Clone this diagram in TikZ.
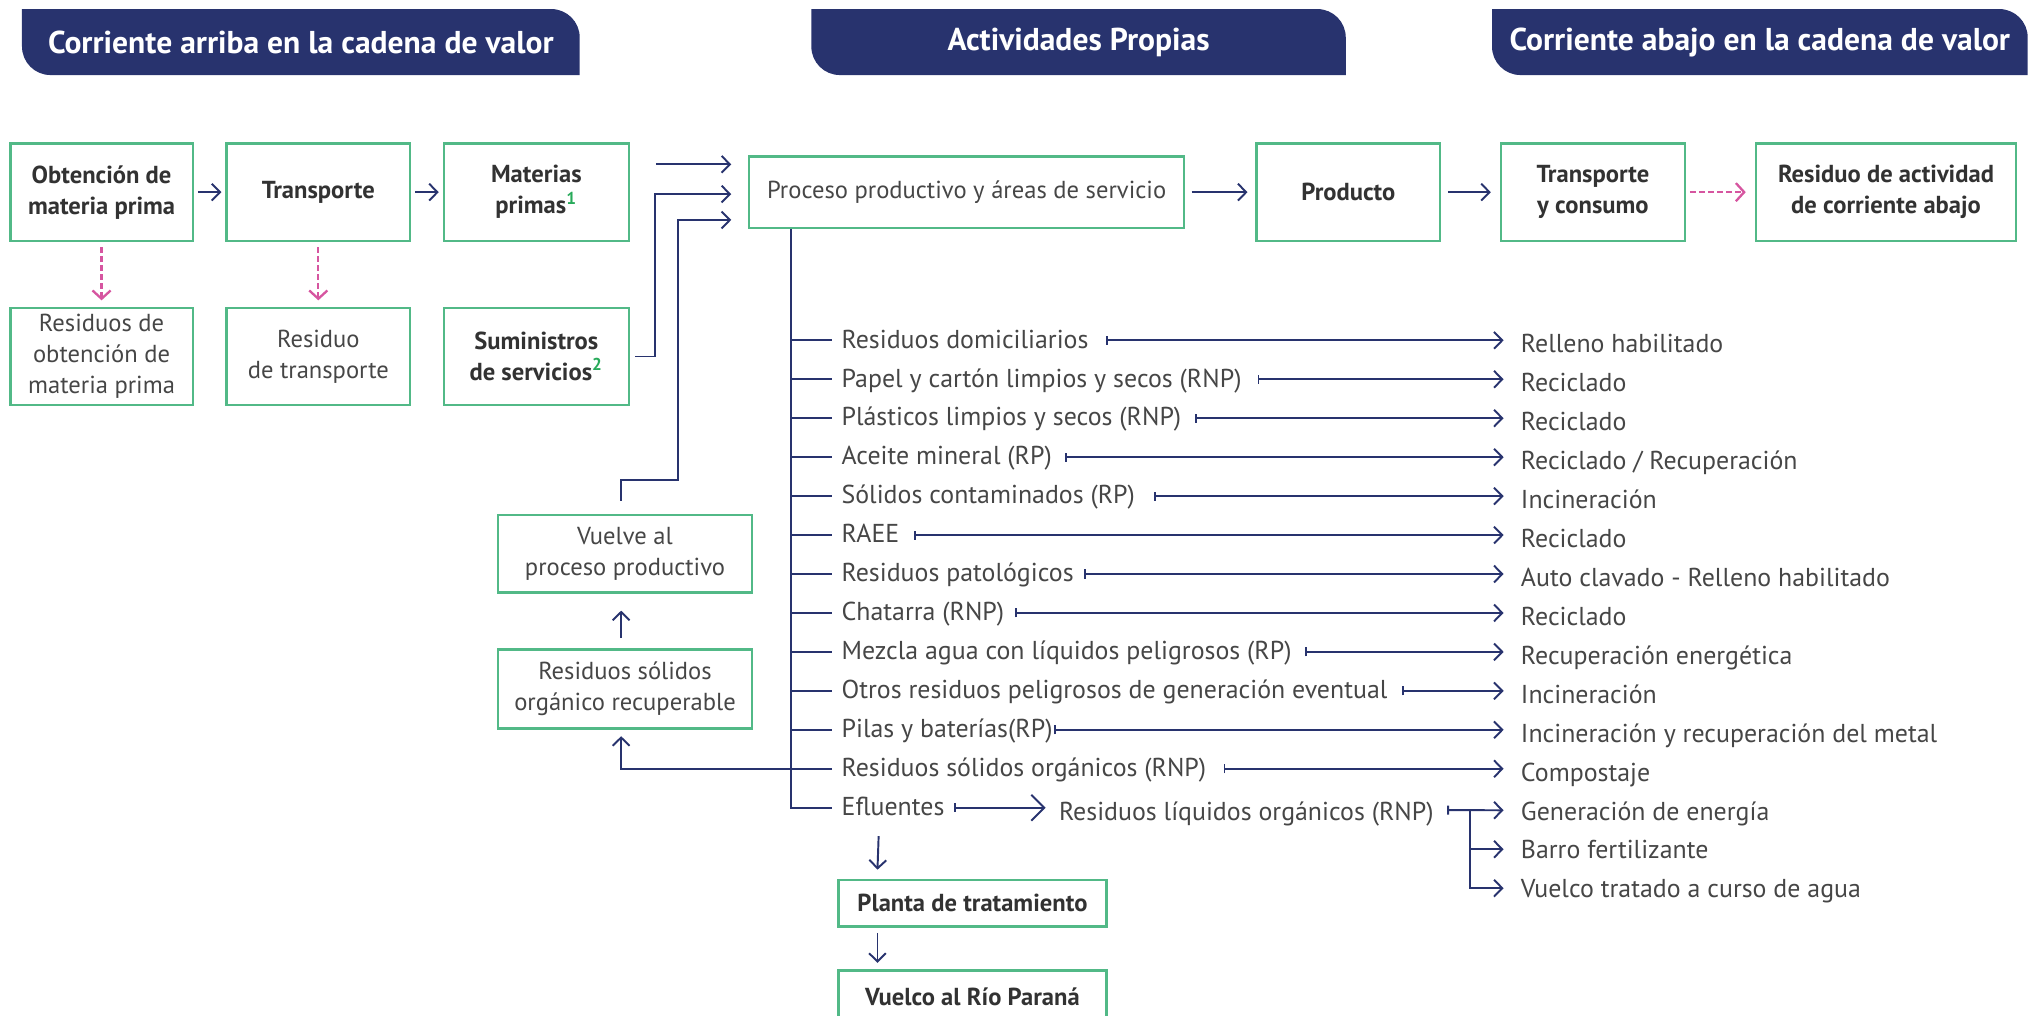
\documentclass[tikz,border=0pt]{standalone}
\usepackage{fontspec}
\setmainfont{PT Sans}
\usetikzlibrary{arrows.meta,calc}
\definecolor{navy}{RGB}{40,51,110}
\definecolor{boxgreen}{RGB}{82,185,135}
\definecolor{pinkd}{RGB}{214,85,160}
\definecolor{txt}{RGB}{50,50,50}
\definecolor{ltxt}{RGB}{70,70,70}
\definecolor{supg}{RGB}{40,170,90}
\newcommand\myhdr[4]{%
  \fill[navy] (#1,7) -- ({#2-22},7) arc[start angle=-90,end angle=0,radius=22] -- (#2,58) -- ({#1+22},58) arc[start angle=90,end angle=180,radius=22] -- cycle;
  \node[hdrtxt] (#3) at ({(#1+#2)/2},32.5) {#4};}
\begin{document}
\begin{tikzpicture}[x=0.5pt,y=-0.5pt,
  box/.style={draw=boxgreen,line width=0.9pt,align=center,inner sep=0pt},
  bbox/.style={box,text=txt,font=\bfseries\fontsize{9.5}{12}\selectfont},
  lbox/.style={box,text=ltxt,font=\fontsize{9.5}{12}\selectfont},
  hdrtxt/.style={text=white,font=\bfseries\fontsize{12.2}{14}\selectfont,inner sep=0pt},
  conn/.style={draw=navy,line width=0.75pt},
  arr/.style={conn,-{Straight Barb[length=3.2pt,width=6.5pt]}},
  barr/.style={conn,{Bar[width=3.5pt]}-{Straight Barb[length=3.2pt,width=6.5pt]}},
  pk/.style={draw=pinkd,line width=0.9pt,dash pattern=on 2.2pt off 1.3pt,-{Straight Barb[length=3.2pt,width=7pt]}},
  item/.style={anchor=west,inner sep=0pt,text=ltxt,font=\fontsize{10}{12}\selectfont,text height=1.6ex,text depth=0.4ex}]
\useasboundingbox (0,0) rectangle (1568,785);
% headers
\myhdr{17}{448}{h1}{Corriente arriba en la cadena de valor}
\myhdr{627}{1040}{h2}{Actividades Propias}
\myhdr{1153}{1567}{h3}{Corriente abajo en la cadena de valor}
% boxes
\node[bbox,minimum width=70.5pt,minimum height=37.5pt] (obt) at (78.5,148.5) {Obtención de\\materia prima};
\node[bbox,minimum width=71pt,minimum height=37.5pt] (trp) at (246,148.5) {Transporte};
\node[bbox,minimum width=71.5pt,minimum height=37.5pt] (mat) at (414.5,148.5) {Materias\\primas{\color{supg}\textsuperscript{1}}};
\node[lbox,minimum width=168pt,minimum height=27.5pt] (proc) at (747,148.5) {Proceso productivo y áreas de servicio};
\node[bbox,minimum width=71pt,minimum height=37.5pt] (prod) at (1042,148.5) {Producto};
\node[bbox,minimum width=71pt,minimum height=37.5pt] (tyc) at (1231,148.5) {Transporte\\y consumo};
\node[bbox,minimum width=100.5pt,minimum height=37.5pt] (res) at (1457.5,148.5) {Residuo de actividad\\de corriente abajo};
\node[lbox,minimum width=70.5pt,minimum height=37.5pt] (rob) at (78.5,275.5) {Residuos de\\obtención de\\materia prima};
\node[lbox,minimum width=71pt,minimum height=37.5pt] (rtr) at (246,275.5) {Residuo\\de transporte};
\node[bbox,minimum width=71.5pt,minimum height=37.5pt] (sum) at (414.5,275.5) {Suministros\\de servicios{\color{supg}\textsuperscript{2}}};
\node[lbox,minimum width=98pt,minimum height=30pt] (vuel) at (483,428) {Vuelve al\\proceso productivo};
\node[lbox,minimum width=98pt,minimum height=30.5pt] (rsor) at (483,532.5) {Residuos sólidos\\orgánico recuperable};
\node[bbox,minimum width=103.5pt,minimum height=18pt] (planta) at (751.5,698) {Planta de tratamiento};
\node[bbox,minimum width=103.5pt,minimum height=20pt] (vuelco) at (751.5,770) {Vuelco al Río Paraná};
% top connectors
\draw[arr] ($(obt.east)+(3,0)$) -- ($(trp.west)+(-3,0)$);
\draw[arr] ($(trp.east)+(3,0)$) -- ($(mat.west)+(-3,0)$);
\draw[pk] ($(obt.south)+(0,4)$) -- ($(rob.north)+(0,-5)$);
\draw[pk] ($(trp.south)+(0,4)$) -- ($(rtr.north)+(0,-5)$);
\draw[arr] ($(mat.east)+(20,-21.5)$) -- ($(proc.west)+(-13,-21.5)$);
\draw[arr] ($(sum.east)+(4,0)$) -- ++(15,0) |- ($(proc.west)+(-13,1.5)$);
\draw[arr] ($(vuel.north)+(-3,-10)$) -- ++(0,-16) -- ++(44,0) |- ($(proc.west)+(-13,21.5)$);
\draw[arr] ($(proc.east)+(5,0)$) -- ($(prod.west)+(-6,0)$);
\draw[arr] ($(prod.east)+(5,0)$) -- ($(tyc.west)+(-7,0)$);
\draw[pk] ($(tyc.east)+(3,0)$) -- ($(res.west)+(-7,0)$);
% list items
\coordinate (tr) at ($(proc.south west)+(33,0)$);
\node[item] (l1) at (650,263) {Residuos domiciliarios};
\node[item] (l2) at (650,293.1) {Papel y cartón limpios y secos (RNP)};
\node[item] (l3) at (650,323.2) {Plásticos limpios y secos (RNP)};
\node[item] (l4) at (650,353.3) {Aceite mineral (RP)};
\node[item] (l5) at (650,383.4) {Sólidos contaminados (RP)};
\node[item] (l6) at (650,413.5) {RAEE};
\node[item] (l7) at (650,443.6) {Residuos patológicos};
\node[item] (l8) at (650,473.7) {Chatarra (RNP)};
\node[item] (l9) at (650,503.8) {Mezcla agua con líquidos peligrosos (RP)};
\node[item] (l10) at (650,533.9) {Otros residuos peligrosos de generación eventual};
\node[item] (l11) at (650,564) {Pilas y baterías(RP)};
\node[item] (l12) at (650,594.1) {Residuos sólidos orgánicos (RNP)};
\node[item] (l13) at (650,624.2) {Efluentes};
\node[item] (r1) at (1175,266.5) {Relleno habilitado};
\node[item] (r2) at (1175,296.6) {Reciclado};
\node[item] (r3) at (1175,326.7) {Reciclado};
\node[item] (r4) at (1175,356.8) {Reciclado / Recuperación};
\node[item] (r5) at (1175,386.9) {Incineración};
\node[item] (r6) at (1175,417) {Reciclado};
\node[item] (r7) at (1175,447.1) {Auto clavado - Relleno habilitado};
\node[item] (r8) at (1175,477.2) {Reciclado};
\node[item] (r9) at (1175,507.3) {Recuperación energética};
\node[item] (r10) at (1175,537.4) {Incineración};
\node[item] (r11) at (1175,567.5) {Incineración y recuperación del metal};
\node[item] (r12) at (1175,597.6) {Compostaje};
\node[item] (r13) at (1175,627.7) {Generación de energía};
\node[item] (r14) at (1175,657.8) {Barro fertilizante};
\node[item] (r15) at (1175,687.9) {Vuelco tratado a curso de agua};
\node[item] (liq) at (818,628) {Residuos líquidos orgánicos (RNP)};
% trunk and branches
\draw[conn] (tr) -- (tr |- l13.west) -- ($(l13.west)+(-7,0)$);
\foreach \i in {1,...,12}{\draw[conn] (tr |- l\i.west) -- ($(l\i.west)+(-7,0)$);}
\foreach \i/\g in {1/13,2/12,3/10,4/10,5/14,6/11,7/8,8/8,9/10,10/11,11/1,12/13}{
  \draw[barr] ($(l\i.east)+(\g,0)$) -- ($(r1.west |- l\i.east)+(-13,0)$);}
\draw[conn,{Bar[width=3.5pt]}-{Straight Barb[length=5pt,width=10pt]}] ($(l13.east)+(7,0)$) -- ($(liq.west |- l13.east)+(-10,0)$);
\draw[barr] ($(liq.east)+(10,-2)$) -- ($(r13.west)+(-13,-1.5)$);
\coordinate (br) at ($(r13.west)+(-39,-1.5)$);
\draw[arr] (br) |- ($(r14.west)+(-13,-1.5)$);
\draw[arr] (br) |- ($(r15.west)+(-13,-1.5)$);
\draw[arr] ($(l12.west)+(-7,0)$) -| ($(rsor.south)+(-3,5)$);
\draw[arr] ($(rsor.north)+(-3,-8)$) -- ($(vuel.south)+(-3,13)$);
\draw[arr] ($(l13.west)+(29,22)$) -- ($(planta.north west)+(31,-7)$);
\draw[arr] ($(planta.south west)+(31,4)$) -- ($(vuelco.north west)+(31,-5)$);
\end{tikzpicture}
\end{document}
